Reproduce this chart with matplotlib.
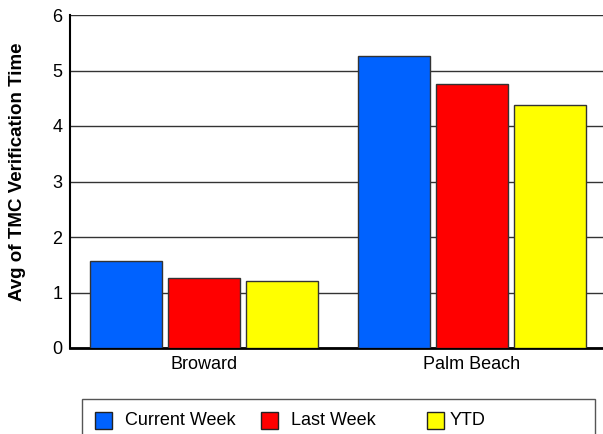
import matplotlib
matplotlib.use("Agg")
import matplotlib.pyplot as plt
from matplotlib.patches import Rectangle
import numpy as np

plt.rcParams['font.family'] = ['Liberation Sans', 'DejaVu Sans']

categories = ["Broward", "Palm Beach"]
series_names = ["Current Week", "Last Week", "YTD"]
current_week = [1.57, 5.27]
last_week = [1.26, 4.75]
ytd = [1.21, 4.37]
colors = ["#0062FF", "#FF0000", "#FFFF00"]
yticks = [0, 1, 2, 3, 4, 5, 6]

W, H = 603, 434
fig = plt.figure(figsize=(W / 100, H / 100), dpi=100)
ax = fig.add_axes([70 / W, 86 / H, 536 / W, 333 / H])

x = np.arange(len(categories))
w = 0.269
off = 0.291
for i, (vals, c, name) in enumerate(zip([current_week, last_week, ytd], colors, series_names)):
    ax.bar(x + (i - 1) * off, vals, width=w, color=c, edgecolor="#333333",
           linewidth=1.0, label=name, zorder=3)

ax.set_xlim(-0.5, 1.5)
ax.set_ylim(0, 6)
ax.set_yticks(yticks)
ax.set_xticks(x)
ax.set_xticklabels(categories)
ax.tick_params(axis='both', length=0, labelsize=13, colors='black')
ax.tick_params(axis='y', pad=5.5)
ax.tick_params(axis='x', pad=6)
ax.yaxis.grid(True, color="#333333", linewidth=1.0, zorder=0)
ax.set_axisbelow(True)
for s in ["top", "right"]:
    ax.spines[s].set_visible(False)
ax.spines["left"].set_linewidth(1.5)
ax.spines["bottom"].set_linewidth(2.0)
ax.set_ylabel("Avg of TMC Verification Time", fontsize=13.5, fontweight="bold")
ax.yaxis.set_label_coords(-0.083, 0.53)

# legend box (pixel layout converted to figure fraction)
def fx(px):
    return px / W

def fy(py):
    return (H - py) / H

fig.add_artist(Rectangle((fx(82), fy(445)), fx(595) - fx(82), fy(399) - fy(445),
                         transform=fig.transFigure, facecolor="white",
                         edgecolor="#555555", linewidth=1.0))
sq_x = [95, 261, 427]
txt_x = [125, 291, 450]
for sx, tx, c, name in zip(sq_x, txt_x, colors, series_names):
    fig.add_artist(Rectangle((fx(sx), fy(429)), fx(17), 17 / H,
                             transform=fig.transFigure, facecolor=c,
                             edgecolor="#222222", linewidth=1.0))
    fig.text(fx(tx), fy(420.5), name, fontsize=13, va="center", ha="left")

fig.savefig("out.png", dpi=100)
